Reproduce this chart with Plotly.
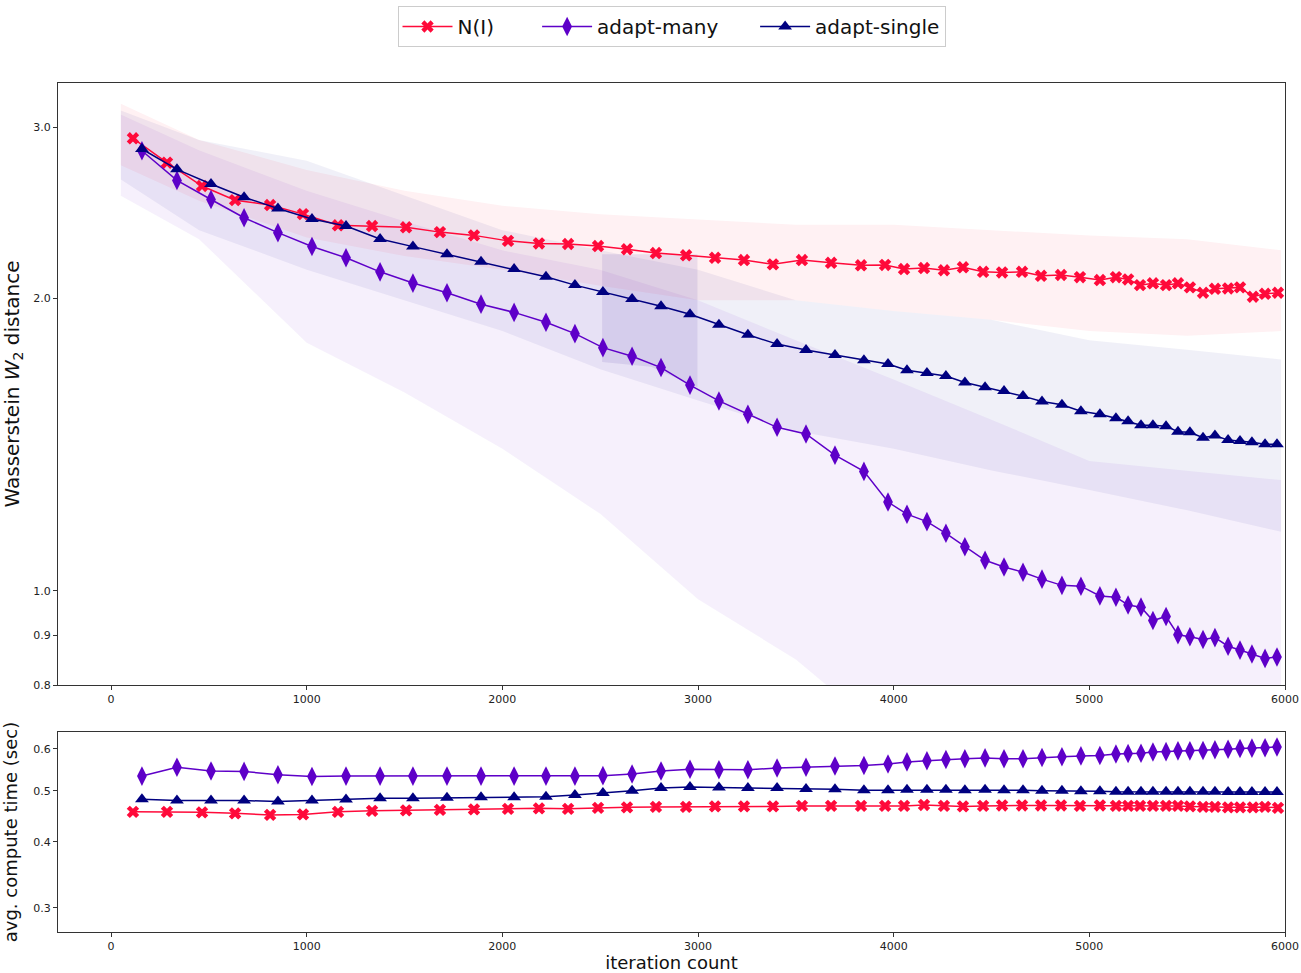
import math
import plotly.graph_objects as go
from plotly.subplots import make_subplots

# ---------------- data ----------------
ni_iter = [112, 286, 465, 634, 813, 981, 1160, 1334, 1508, 1681, 1855, 2029, 2187, 2336, 2489, 2637,
           2785, 2939, 3087, 3235, 3383, 3531, 3680, 3833, 3956, 4053, 4155, 4257, 4354, 4457, 4554,
           4656, 4753, 4855, 4952, 5054, 5136, 5198, 5259, 5325, 5392, 5453, 5514, 5581, 5642, 5709,
           5770, 5836, 5898, 5964]
ni_w2 = [2.921, 2.757, 2.609, 2.523, 2.494, 2.441, 2.377, 2.373, 2.366, 2.339, 2.321, 2.291, 2.277,
         2.274, 2.263, 2.246, 2.226, 2.214, 2.201, 2.189, 2.167, 2.189, 2.175, 2.162, 2.164, 2.143,
         2.148, 2.137, 2.152, 2.129, 2.126, 2.129, 2.109, 2.113, 2.102, 2.088, 2.102, 2.091, 2.063,
         2.072, 2.063, 2.072, 2.052, 2.026, 2.045, 2.047, 2.052, 2.007, 2.021, 2.026]
ni_time = [0.456, 0.456, 0.455, 0.453, 0.450, 0.451, 0.456, 0.458, 0.459, 0.460, 0.461, 0.462, 0.463,
           0.462, 0.464, 0.465, 0.466, 0.466, 0.467, 0.467, 0.467, 0.468, 0.468, 0.468, 0.468, 0.468,
           0.470, 0.468, 0.467, 0.468, 0.469, 0.469, 0.469, 0.469, 0.468, 0.469, 0.468, 0.468, 0.468,
           0.468, 0.468, 0.468, 0.467, 0.466, 0.466, 0.465, 0.465, 0.465, 0.466, 0.464]

adapt_iter = [158, 337, 511, 680, 853, 1027, 1201, 1375, 1543, 1717, 1891, 2060, 2223, 2371, 2514,
              2663, 2811, 2959, 3107, 3255, 3404, 3552, 3700, 3848, 3971, 4068, 4170, 4267, 4364,
              4467, 4564, 4661, 4758, 4860, 4957, 5054, 5136, 5198, 5264, 5325, 5392, 5453, 5514,
              5581, 5642, 5709, 5770, 5831, 5898, 5959]
many_w2 = [2.836, 2.644, 2.527, 2.420, 2.336, 2.261, 2.201, 2.129, 2.073, 2.026, 1.972, 1.934, 1.889,
           1.839, 1.779, 1.743, 1.697, 1.628, 1.568, 1.519, 1.473, 1.450, 1.379, 1.327, 1.234, 1.199,
           1.178, 1.146, 1.110, 1.075, 1.058, 1.045, 1.028, 1.013, 1.011, 0.988, 0.985, 0.967, 0.962,
           0.932, 0.941, 0.901, 0.897, 0.891, 0.895, 0.877, 0.869, 0.861, 0.852, 0.855]
many_time = [0.533, 0.554, 0.545, 0.544, 0.536, 0.532, 0.533, 0.533, 0.533, 0.533, 0.533, 0.533, 0.533,
             0.533, 0.534, 0.538, 0.545, 0.549, 0.548, 0.548, 0.552, 0.554, 0.557, 0.558, 0.562, 0.567,
             0.570, 0.573, 0.575, 0.577, 0.575, 0.575, 0.578, 0.580, 0.582, 0.583, 0.587, 0.588, 0.589,
             0.592, 0.593, 0.595, 0.595, 0.596, 0.598, 0.599, 0.601, 0.602, 0.603, 0.605]
single_w2 = [2.848, 2.714, 2.621, 2.540, 2.474, 2.413, 2.373, 2.301, 2.260, 2.220, 2.180, 2.143, 2.104,
             2.063, 2.030, 1.996, 1.962, 1.925, 1.878, 1.834, 1.794, 1.769, 1.748, 1.727, 1.711, 1.686,
             1.675, 1.663, 1.638, 1.620, 1.605, 1.586, 1.566, 1.554, 1.530, 1.519, 1.505, 1.494, 1.480,
             1.480, 1.477, 1.458, 1.456, 1.437, 1.445, 1.429, 1.426, 1.422, 1.415, 1.415]
single_time = [0.482, 0.479, 0.479, 0.479, 0.477, 0.479, 0.481, 0.484, 0.484, 0.485, 0.486, 0.486, 0.487,
               0.491, 0.495, 0.500, 0.506, 0.508, 0.507, 0.506, 0.506, 0.504, 0.503, 0.501, 0.501, 0.502,
               0.502, 0.502, 0.501, 0.502, 0.501, 0.501, 0.500, 0.500, 0.499, 0.499, 0.498, 0.498, 0.498,
               0.498, 0.498, 0.498, 0.498, 0.498, 0.498, 0.497, 0.497, 0.497, 0.497, 0.497]

# spread of the individual runs (faint background), read as envelopes
band_iter = [50, 450, 1000, 1500, 2000, 2500, 3000, 3500, 4000, 4500, 5000, 5500, 5980]
ni_hi = [3.17, 2.91, 2.71, 2.58, 2.49, 2.44, 2.41, 2.38, 2.38, 2.35, 2.32, 2.30, 2.24]
ni_lo = [2.74, 2.52, 2.31, 2.21, 2.14, 2.06, 1.99, 1.99, 1.94, 1.90, 1.85, 1.83, 1.85]
single_hi = [3.12, 2.91, 2.77, 2.55, 2.35, 2.24, 2.14, 1.99, 1.94, 1.90, 1.81, 1.77, 1.73]
single_lo = [2.65, 2.35, 2.14, 1.99, 1.85, 1.69, 1.57, 1.46, 1.40, 1.33, 1.27, 1.21, 1.15]
many_hi = [3.09, 2.84, 2.58, 2.40, 2.24, 2.14, 1.99, 1.81, 1.65, 1.50, 1.36, 1.33, 1.30]
many_lo = [2.55, 2.30, 1.80, 1.60, 1.40, 1.20, 0.98, 0.85, 0.70, 0.70, 0.70, 0.70, 0.70]
dense_iter = [2510, 2760, 2997]
dense_hi = [2.22, 2.22, 2.22]
dense_lo = [1.72, 1.70, 1.62]

RED = "#ff0a3a"
PURPLE = "#5e00c8"
NAVY = "#000080"
FONT = "DejaVu Sans"
NB = "\u00a0"

fig = make_subplots(rows=2, cols=1, shared_xaxes=False, vertical_spacing=0.0)


def band(xs, hi, lo, color, opacity):
    return go.Scatter(x=xs + xs[::-1], y=hi + lo[::-1], mode="lines", fill="toself",
                      fillcolor=color, opacity=opacity, line=dict(width=0),
                      hoverinfo="skip", showlegend=False)


fig.add_trace(band(band_iter, many_hi, many_lo, PURPLE, 0.06), row=1, col=1)
fig.add_trace(band(band_iter, single_hi, single_lo, NAVY, 0.06), row=1, col=1)
fig.add_trace(band(band_iter, ni_hi, ni_lo, RED, 0.06), row=1, col=1)
fig.add_trace(band(dense_iter, dense_hi, dense_lo, "#3a1a9a", 0.10), row=1, col=1)

series = [
    ("N(I)", ni_iter, ni_w2, ni_time, RED, "x", 11, 6),
    ("adapt-many", adapt_iter, many_w2, many_time, PURPLE, "diamond-tall", 14, 5),
    ("adapt-single", adapt_iter, single_w2, single_time, NAVY, "triangle-up", 12, 0),
]
for name, xs, w2, tm, col, sym, sz, pad in series:
    fig.add_trace(go.Scatter(x=xs, y=w2, name=name + NB * pad, mode="lines+markers",
                             line=dict(color=col, width=1.5),
                             marker=dict(symbol=sym, size=sz, color=col, line=dict(width=0)),
                             legendgroup=name), row=1, col=1)
    fig.add_trace(go.Scatter(x=xs, y=tm, name=name, mode="lines+markers",
                             line=dict(color=col, width=1.5),
                             marker=dict(symbol=sym, size=sz, color=col, line=dict(width=0)),
                             legendgroup=name, showlegend=False), row=2, col=1)

axis_common = dict(showline=True, linecolor="#333", linewidth=1, mirror=True, automargin=False,
                   ticks="outside", ticklen=4, tickcolor="#333", showgrid=False, zeroline=False,
                   tickfont=dict(family=FONT, size=11, color="#222"))

H_PLOT = 973 - 83 - 41
fig.update_layout(
    width=1301, height=973,
    margin=dict(l=58, r=16, t=83, b=41, autoexpand=False),
    plot_bgcolor="white", paper_bgcolor="white",
    font=dict(family=FONT, color="#111"),
    legend=dict(orientation="h", x=0.5, xanchor="center", y=1 + 77 / H_PLOT, yanchor="top",
                font=dict(family=FONT, size=20), bordercolor="#cccccc", borderwidth=1,
                bgcolor="white", itemwidth=50, tracegroupgap=0),
    xaxis=dict(domain=[0, 1], range=[-271, 6000], tickvals=[0, 1000, 2000, 3000, 4000, 5000, 6000],
               anchor="y", **axis_common),
    yaxis=dict(domain=[(932 - 685) / H_PLOT, 1], type="log",
               range=[math.log10(0.8), math.log10(3.33)],
               tickvals=[0.8, 0.9, 1.0, 2.0, 3.0], ticktext=["0.8", "0.9", "1.0", "2.0", "3.0"],
               title=dict(text="Wasserstein <i>W</i><sub>2</sub> distance",
                          font=dict(family=FONT, size=20), standoff=14),
               anchor="x", **axis_common),
    xaxis2=dict(domain=[0, 1], range=[-271, 6000], tickvals=[0, 1000, 2000, 3000, 4000, 5000, 6000],
                title=dict(text="iteration count", font=dict(family=FONT, size=18), standoff=5),
                anchor="y2", **axis_common),
    yaxis2=dict(domain=[0, 200 / H_PLOT], type="log",
                range=[math.log10(0.27), math.log10(0.646)],
                tickvals=[0.3, 0.4, 0.5, 0.6], ticktext=["0.3", "0.4", "0.5", "0.6"],
                title=dict(text="avg. compute time (sec)", font=dict(family=FONT, size=18), standoff=14),
                anchor="x2", **axis_common),
)

fig.write_html("out.html", config={"displayModeBar": False},
               post_script="document.body.style.margin='0';document.body.style.padding='0';"
                           "document.body.style.overflow='hidden';")
